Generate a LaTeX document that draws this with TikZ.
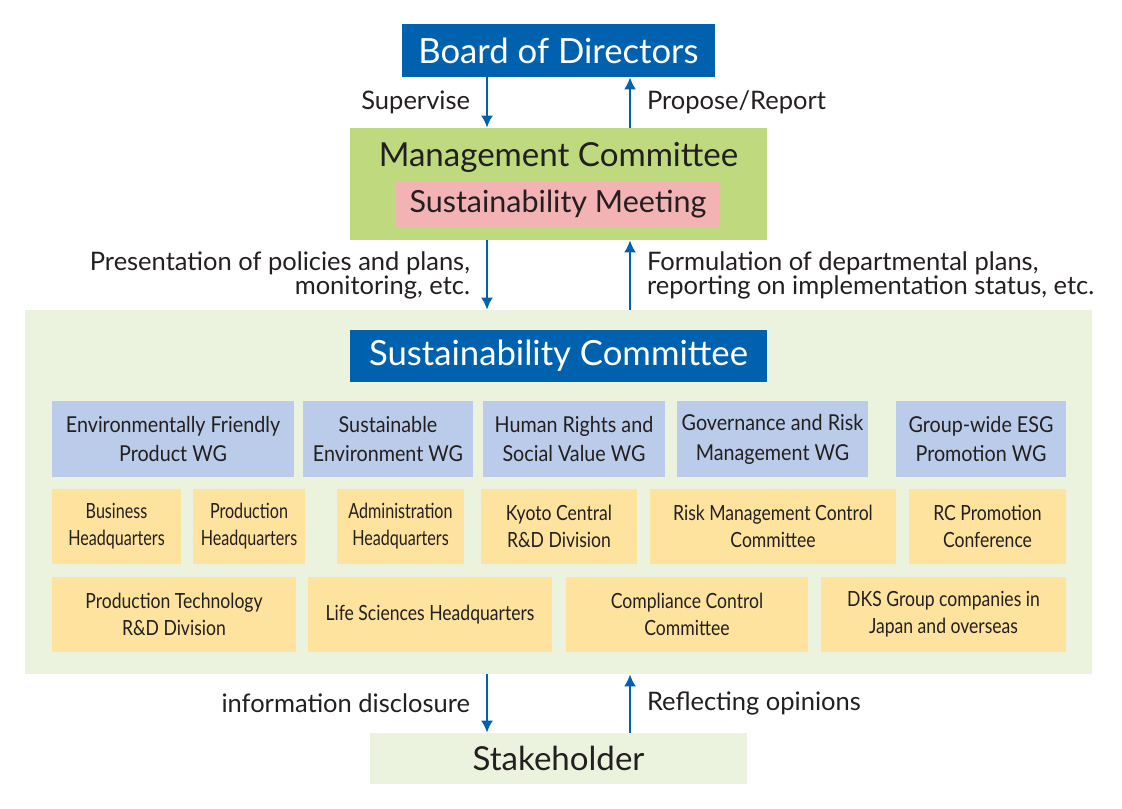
\documentclass[tikz,border=0pt]{standalone}
\usepackage{fontspec}
\setmainfont{Lato}
\newfontfamily\wgfont[FakeStretch=0.9]{Lato}
\newfontfamily\narrowfont[FakeStretch=0.84]{Lato}
\newfontfamily\tightfont[FakeStretch=0.77]{Lato}
\usetikzlibrary{positioning,arrows.meta}
\definecolor{boardblue}{HTML}{0062AE}
\definecolor{mgmtgreen}{HTML}{BFD97F}
\definecolor{meetpink}{HTML}{F3B2B4}
\definecolor{wgblue}{HTML}{BACCE9}
\definecolor{deptyellow}{HTML}{FEE39E}
\definecolor{areagreen}{HTML}{EBF2DE}
\definecolor{textgray}{HTML}{231F20}
\begin{document}
\begin{tikzpicture}[
		x=0.5bp, y=-0.5bp,
		every node/.style={inner sep=0pt, text=textgray},
		ar/.style={->, >={Latex[length=6bp,width=6bp]}, draw=boardblue, line width=1bp},
		bluebox/.style={fill=boardblue, text=white, font=\fontsize{17.4}{20}\selectfont},
		wgbox/.style={fill=wgblue, align=center, minimum height=38bp, font=\wgfont\fontsize{11}{15}\selectfont},
		deptbox/.style={fill=deptyellow, align=center, minimum height=37.5bp, font=\narrowfont\fontsize{10.5}{13.5}\selectfont},
		hqbox/.style={deptbox, font=\tightfont\fontsize{10.5}{13.5}\selectfont},
		lbl/.style={align=right, font=\fontsize{12.8}{12}\selectfont}
	]
		\useasboundingbox (0,0) rectangle (1122,808);
		\coordinate (l) at (487,0);
		\coordinate (r) at (630,0);
		% top
		\node[bluebox, minimum width=156.5bp, minimum height=26.5bp] (board) at (558.5,50.5) {Board of Directors};
		\node[fill=mgmtgreen, minimum width=208.5bp, minimum height=56bp] (mgmt) at (558.5,184) {};
		\node[font=\fontsize{16.6}{19}\selectfont] (mgmttext) at (558.5,157) {Management Committee};
		\node[fill=meetpink, minimum width=162bp, minimum height=23bp, font=\fontsize{15.3}{18}\selectfont] (meeting) at (558,204) {Sustainability Meeting};
		% committee area
		\node[fill=areagreen, minimum width=533.5bp, minimum height=182bp] (area) at (558.5,492) {};
		\node[bluebox, minimum width=208.5bp, minimum height=26bp] (suscom) at (558.5,356) {Sustainability Committee};
		\node[wgbox, minimum width=121bp] (wgprod) at (173,439) {Environmentally Friendly\\Product WG};
		\node[wgbox, minimum width=85bp] (wgenv) at (388,439) {Sustainable\\Environment WG};
		\node[wgbox, minimum width=91bp] (wghuman) at (574,439) {Human Rights and\\Social Value WG};
		\node[wgbox, minimum width=95.5bp] (wggov) at (772.5,439) {Governance and Risk\\Management WG};
		\node[wgbox, minimum width=85bp] (wgesg) at (981,439) {Group-wide ESG\\Promotion WG};
		\node[hqbox, minimum width=64.5bp] (busi) at (116.5,526.5) {Business\\Headquarters};
		\node[hqbox, minimum width=56bp] (prod) at (249,526.5) {Production\\Headquarters};
		\node[hqbox, minimum width=63.5bp] (admin) at (400.5,526.5) {Administration\\Headquarters};
		\node[deptbox, minimum width=78bp] (kyoto) at (559,526.5) {Kyoto Central\\R\&D Division};
		\node[deptbox, minimum width=123bp] (risk) at (773,526.5) {Risk Management Control\\Committee};
		\node[deptbox, minimum width=78.5bp] (rc) at (987.5,526.5) {RC Promotion\\Conference};
		\node[deptbox, minimum width=122bp] (prodtech) at (174,614.5) {Production Technology\\R\&D Division};
		\node[deptbox, minimum width=122bp] (life) at (430,614.5) {Life Sciences Headquarters};
		\node[deptbox, minimum width=121bp] (compl) at (687,614.5) {Compliance Control\\Committee};
		\node[deptbox, minimum width=122.5bp] (dks) at (943.5,614.5) {DKS Group companies in\\Japan and overseas};
		% bottom
		\node[fill=areagreen, minimum width=188.5bp, minimum height=25.5bp, font=\fontsize{16.6}{19}\selectfont] (stake) at (558.5,758.5) {Stakeholder};
		% arrows
		\draw[ar] (board.south -| l) -- node[lbl, anchor=east, xshift=-8bp] {Supervise} (mgmt.north -| l);
		\draw[ar] (mgmt.north -| r) -- node[lbl, anchor=west, xshift=8bp, align=left] {Propose/Report} (board.south -| r);
		\draw[ar] (mgmt.south -| l) -- node[lbl, anchor=east, xshift=-8bp] {Presentation of policies and plans,\\monitoring, etc.} (area.north -| l);
		\draw[ar] (area.north -| r) -- node[lbl, anchor=west, xshift=8bp, align=left] {Formulation of departmental plans,\\reporting on implementation status, etc.} (mgmt.south -| r);
		\draw[ar] (area.south -| l) -- node[lbl, anchor=east, xshift=-8bp] {information disclosure} (stake.north -| l);
		\draw[ar] (stake.north -| r) -- node[lbl, anchor=west, xshift=8bp, align=left] {Reflecting opinions} (area.south -| r);
	\end{tikzpicture}
\end{document}
